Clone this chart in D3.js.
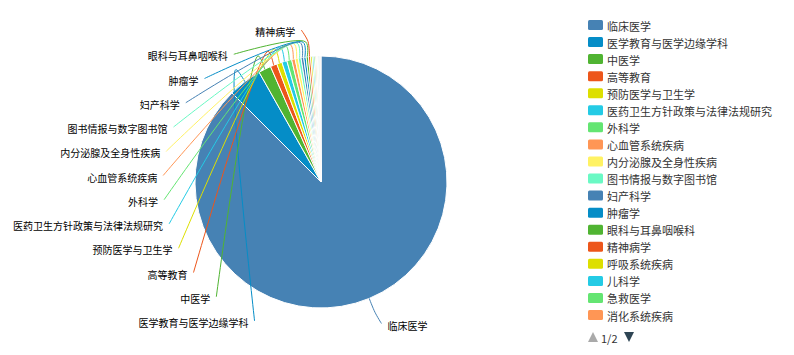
<!DOCTYPE html>
<html>
<head>
<meta charset="utf-8">
<script src="https://cdn.jsdelivr.net/npm/d3@7"></script>
<style>
  html, body { margin: 0; padding: 0; background: #fff; }
  svg { display: block; font-family: "Noto Sans CJK SC", "Noto Sans", sans-serif; }
</style>
</head>
<body>
<svg id="chart" width="794" height="355"></svg>
<script>
// Subject categories (legend order) and their document counts
const categories = [
  "临床医学", "医学教育与医学边缘学科", "中医学", "高等教育", "预防医学与卫生学",
  "医药卫生方针政策与法律法规研究", "外科学", "心血管系统疾病", "内分泌腺及全身性疾病",
  "图书情报与数字图书馆", "妇产科学", "肿瘤学", "眼科与耳鼻咽喉科", "精神病学",
  "呼吸系统疾病", "儿科学", "急救医学", "消化系统疾病",
  "神经病学", "皮肤病学与性病学", "口腔科学", "药学", "基础医学", "护理学"
];
const values = [
  8750, 433, 161, 86, 68,
  65, 62, 45, 40,
  36, 34, 31, 29, 27,
  22, 20, 18, 16,
  11, 10, 10, 9, 9, 8
];
const palette = ["#4682B4", "#058DC7", "#50B432", "#ED561B", "#DDDF00",
                 "#24CBE5", "#64E572", "#FF9655", "#FFF263", "#6AF9C4"];
const legendPageSize = 18;
const legendPage = 1;

const cx = 321, cy = 182, radius = 126;
const labelRx = 158, labelRy = 153.2, lineLen1 = 15, labelGap = 6;
const leftBottomY = 139, leftStep = 24.25;

const svg = d3.select("#chart");
const color = d3.scaleOrdinal().domain(categories).range(palette);
const data = categories.map((name, i) => ({ name, value: values[i], index: i }));

const pie = d3.pie().value(d => d.value).sort(null)
  .startAngle(0).endAngle(2 * Math.PI);
const arcs = pie(data);
const arc = d3.arc().innerRadius(0).outerRadius(radius);

const g = svg.append("g").attr("transform", `translate(${cx},${cy})`);

g.selectAll("path.slice")
  .data(arcs)
  .join("path")
  .attr("class", "slice")
  .attr("d", arc)
  .attr("fill", d => color(d.data.name))
  .attr("stroke", "#fff")
  .attr("stroke-width", 1)
  .attr("stroke-linejoin", "round");

// Label layout: right-side labels sit on an ellipse at their own angle,
// left-side labels are stacked upwards from the bottom and hidden once
// they run past the top of the ellipse.
const polar = (a, r) => [r * Math.sin(a), -r * Math.cos(a)];
const labels = [];
let leftCount = 0;
arcs.forEach(d => {
  const mid = (d.startAngle + d.endAngle) / 2;
  const right = Math.sin(mid) >= 0;
  let y;
  if (right) {
    y = -labelRy * Math.cos(mid);
  } else {
    y = leftBottomY - leftCount * leftStep;
    leftCount++;
  }
  if (y < -labelRy) return;
  const k = Math.sqrt(Math.max(0, 1 - (y / labelRy) ** 2));
  const x = (right ? 1 : -1) * labelRx * k;
  labels.push({
    d, right, x, y,
    pts: [polar(mid, radius), polar(mid, radius + lineLen1), [x, y]]
  });
});

const lineGen = d3.line().curve(d3.curveCatmullRom.alpha(0.5));

g.selectAll("path.label-line")
  .data(labels)
  .join("path")
  .attr("class", "label-line")
  .attr("d", l => lineGen(l.pts))
  .attr("fill", "none")
  .attr("stroke", l => color(l.d.data.name))
  .attr("stroke-width", 1);

g.selectAll("text.label")
  .data(labels)
  .join("text")
  .attr("class", "label")
  .attr("x", l => l.right ? l.x + labelGap : l.x - labelGap)
  .attr("y", l => l.y + 1.5)
  .attr("text-anchor", l => l.right ? "start" : "end")
  .attr("dominant-baseline", "central")
  .attr("font-size", 10)
  .attr("fill", "#000")
  .text(l => l.d.data.name);

// Scrollable legend (first page shown)
const pageCount = Math.ceil(categories.length / legendPageSize);
const pageItems = categories.slice((legendPage - 1) * legendPageSize, legendPage * legendPageSize);
const legend = svg.append("g").attr("transform", "translate(588,25)");
const rowStep = 17.06;
const item = legend.selectAll("g.item")
  .data(pageItems)
  .join("g")
  .attr("class", "item")
  .attr("transform", (d, i) => `translate(0,${i * rowStep})`);
item.append("rect")
  .attr("x", 0).attr("y", -5)
  .attr("width", 15).attr("height", 10)
  .attr("rx", 1.5)
  .attr("fill", d => color(d));
item.append("text")
  .attr("x", 19).attr("y", 0.5)
  .attr("dominant-baseline", "central")
  .attr("font-size", 11)
  .attr("fill", "#333")
  .text(d => d);

const pager = svg.append("g").attr("transform", "translate(588,337)");
pager.append("path")
  .attr("d", "M0,5L10,5L5,-5Z")
  .attr("fill", legendPage > 1 ? "#2f4554" : "#aaa");
pager.append("text")
  .attr("x", 13).attr("y", 0.5)
  .attr("dominant-baseline", "central")
  .attr("font-size", 11)
  .attr("fill", "#333")
  .text(`${legendPage}/${pageCount}`);
pager.append("path")
  .attr("d", "M36,-5L46,-5L41,5Z")
  .attr("fill", legendPage < pageCount ? "#2f4554" : "#aaa");
</script>
</body>
</html>
